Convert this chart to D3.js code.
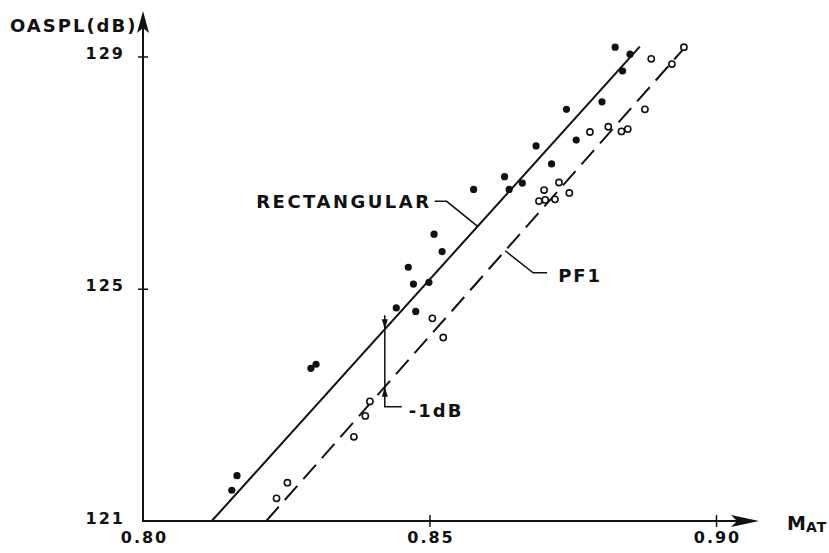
<!DOCTYPE html>
<html>
<head>
<meta charset="utf-8">
<script src="https://cdn.jsdelivr.net/npm/d3@7"></script>
<style>
  html, body { margin: 0; padding: 0; background: #fff; }
  svg { display: block; }
  text { font-family: "DejaVu Sans", "Liberation Sans", sans-serif; font-weight: bold; fill: #111; }
</style>
</head>
<body>
<svg id="chart" width="829" height="553"></svg>
<script>
// ---------------- data ----------------
const xTicks = [0.80, 0.85, 0.90];
const xTickLabels = ["0.80", "0.85", "0.90"];
const yTicks = [121, 125, 129];
const yTickLabels = ["121", "125", "129"];

// RECTANGULAR nozzle (filled symbols)
const rectPoints = [
  [0.8155, 121.53], [0.8164, 121.78], [0.8293, 123.63], [0.8302, 123.70],
  [0.8442, 124.67], [0.8476, 124.61], [0.8463, 125.37], [0.8472, 125.08],
  [0.8499, 125.11], [0.8508, 125.94], [0.8522, 125.64], [0.8577, 126.71],
  [0.8631, 126.93], [0.8639, 126.71], [0.8662, 126.82], [0.8686, 127.46],
  [0.8713, 127.15], [0.8739, 128.09], [0.8756, 127.56], [0.8801, 128.22],
  [0.8824, 129.16], [0.8850, 129.04], [0.8837, 128.75]
];
// PF1 nozzle (open symbols)
const pf1Points = [
  [0.8233, 121.39], [0.8252, 121.66], [0.8368, 122.45], [0.8388, 122.81],
  [0.8396, 123.06], [0.8505, 124.49], [0.8524, 124.16], [0.8691, 126.51],
  [0.8702, 126.53], [0.8719, 126.54], [0.8700, 126.70], [0.8726, 126.83],
  [0.8744, 126.65], [0.8780, 127.70], [0.8812, 127.79], [0.8835, 127.71],
  [0.8846, 127.75], [0.8876, 128.09], [0.8887, 128.96], [0.8923, 128.87],
  [0.8944, 129.16]
];
// fitted lines
const rectLine = [[0.8120, 121.0], [0.8867, 129.17]];
const pf1Line  = [[0.8215, 121.0], [0.8946, 129.16]];

const seriesLabels = ["RECTANGULAR", "PF1"];
const dimLabel = "-1dB";
const yTitle = "OASPL(dB)";

// ---------------- drawing ----------------
const svg = d3.select("#chart");
const x = d3.scaleLinear().domain([0.80, 0.90]).range([143, 716]);
const y = d3.scaleLinear().domain([121, 129]).range([521, 56.5]);

const ink = "#111";

function lineAt(line, xv) {
  const [[x0, y0], [x1, y1]] = line;
  return y0 + (xv - x0) * (y1 - y0) / (x1 - x0);
}

// axes lines with arrows
const x0 = x(0.80), y0 = y(121);
svg.append("line").attr("x1", x0 - 1).attr("y1", y0).attr("x2", 750).attr("y2", y0)
  .attr("stroke", ink).attr("stroke-width", 2);
svg.append("path").attr("d", `M759,${y0} L731,${y0 - 6} L737,${y0} L731,${y0 + 6} Z`).attr("fill", ink);
svg.append("line").attr("x1", x0).attr("y1", y0 + 1).attr("x2", x0).attr("y2", 22)
  .attr("stroke", ink).attr("stroke-width", 2);
svg.append("path").attr("d", `M${x0},11 L${x0 - 6},33 L${x0},28 L${x0 + 6},33 Z`).attr("fill", ink);

// x axis ticks & labels via d3 axis
const gx = svg.append("g").attr("transform", `translate(0,${y0})`)
  .call(d3.axisBottom(x).tickValues(xTicks).tickFormat((d, i) => xTickLabels[i]).tickSize(6).tickPadding(0));
gx.select(".domain").remove();
gx.selectAll(".tick line").attr("y1", d => d === 0.80 ? 0 : -6).attr("y2", d => d === 0.80 ? 0 : 6)
  .attr("stroke", ink).attr("stroke-width", 1.5);
gx.selectAll(".tick text").attr("y", 22).attr("dy", 0).attr("dx", 1)
  .style("font-size", "16px").style("letter-spacing", "2px").style("font-family", "DejaVu Sans")
  .style("font-weight", "bold").attr("fill", ink);

// y axis ticks & labels via d3 axis
const gy = svg.append("g").attr("transform", `translate(${x0},0)`)
  .call(d3.axisLeft(y).tickValues(yTicks).tickFormat((d, i) => yTickLabels[i]).tickSize(6).tickPadding(0));
gy.select(".domain").remove();
gy.selectAll(".tick line").attr("x1", d => d === 121 ? 0 : -5).attr("x2", d => d === 121 ? 0 : 5)
  .attr("stroke", ink).attr("stroke-width", 1.5);
gy.selectAll(".tick text").attr("x", -18).attr("dy", 2)
  .style("font-size", "16px").style("letter-spacing", "2px").style("font-family", "DejaVu Sans")
  .style("font-weight", "bold").attr("fill", ink);

// axis titles
svg.append("text").attr("x", 10).attr("y", 32).style("font-size", "18px").style("letter-spacing", "2px").text(yTitle);
const mt = svg.append("text").attr("x", 787).attr("y", 530).style("font-size", "19px");
mt.append("tspan").text("M");
mt.append("tspan").attr("dy", 2).style("font-size", "14px").style("letter-spacing", "1px").text("AT");

// fitted lines
const lineGen = d3.line().x(d => x(d[0])).y(d => y(d[1]));
svg.append("path").datum(rectLine).attr("d", lineGen)
  .attr("stroke", ink).attr("stroke-width", 2).attr("fill", "none");
svg.append("path").datum(pf1Line).attr("d", lineGen)
  .attr("stroke", ink).attr("stroke-width", 2).attr("fill", "none").attr("stroke-dasharray", "19,9");

// points
svg.append("g").selectAll("circle").data(rectPoints).join("circle")
  .attr("cx", d => x(d[0])).attr("cy", d => y(d[1])).attr("r", 3.6).attr("fill", ink);
svg.append("g").selectAll("circle").data(pf1Points).join("circle")
  .attr("cx", d => x(d[0])).attr("cy", d => y(d[1])).attr("r", 3.1)
  .attr("fill", "#fff").attr("stroke", ink).attr("stroke-width", 1.6);

// RECTANGULAR leader
const ra = 0.8584;
const rax = x(ra), ray = y(lineAt(rectLine, ra));
svg.append("path").attr("d", `M${rax},${ray} L${rax - 31},${ray - 25} L${rax - 43},${ray - 25}`)
  .attr("stroke", ink).attr("stroke-width", 1.5).attr("fill", "none");
svg.append("text").attr("x", rax - 48).attr("y", ray - 18).attr("text-anchor", "end")
  .attr("dx", 2).style("font-size", "18px").style("letter-spacing", "2.5px").text(seriesLabels[0]);

// PF1 leader
const pa = 0.8632;
const pax = x(pa), pay = y(lineAt(pf1Line, pa));
svg.append("path").attr("d", `M${pax},${pay} L${pax + 28},${pay + 22} L${pax + 42},${pay + 22}`)
  .attr("stroke", ink).attr("stroke-width", 1.5).attr("fill", "none");
svg.append("text").attr("x", pax + 53).attr("y", pay + 31)
  .style("font-size", "18px").style("letter-spacing", "2px").text(seriesLabels[1]);

// -1dB dimension marker
const da = 0.8422;
const dx = x(da), dTop = y(lineAt(rectLine, da)), dBot = y(lineAt(pf1Line, da));
svg.append("path").attr("d", `M${dx},${dTop - 14} L${dx},${dBot + 20} L${dx + 17},${dBot + 20}`)
  .attr("stroke", ink).attr("stroke-width", 1.5).attr("fill", "none");
svg.append("path").attr("d", `M${dx},${dTop} L${dx - 3},${dTop - 10} L${dx + 3},${dTop - 10} Z`).attr("fill", ink);
svg.append("path").attr("d", `M${dx},${dBot} L${dx - 3},${dBot + 10} L${dx + 3},${dBot + 10} Z`).attr("fill", ink);
svg.append("text").attr("x", dx + 24).attr("y", dBot + 30)
  .style("font-size", "18px").style("letter-spacing", "2px").text(dimLabel);
</script>
</body>
</html>
